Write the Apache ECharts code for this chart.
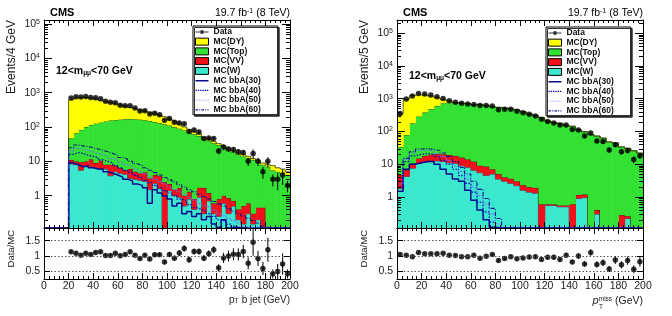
<!DOCTYPE html>
<html>
<head>
<meta charset="utf-8">
<script src="https://cdn.jsdelivr.net/npm/echarts@6/dist/echarts.min.js"></script>
<style>
  html, body { margin: 0; padding: 0; background: #fff; }
  #chart { width: 672px; height: 316px; }
</style>
</head>
<body>
<div id="chart"></div>
<script>
// ---- left panel: pT of b jet, 4 GeV bins from 0 to 200 ----
const leftBinWidth = 4;
const leftW = [0, 0, 0, 0, 0, 8.5, 8.0, 5.5, 7.0, 7.0, 6.5, 6.0, 6.0, 3.8, 5.0, 4.5, 4.2, 3.2, 3.0, 2.8, 2.6, 1.5, 2.3, 1.6, 0, 1.4, 1.0, 0.9, 0.5, 0.8, 0.4, 0.9, 0.3, 0.7, 0.3, 0.25, 0.6, 0.3, 0.5, 0.2, 0.15, 0.3, 0.15, 0.2, 0, 0, 0, 0, 0, 0];
const leftVV = [0, 0, 0, 0, 0, 2.5, 2, 4, 3, 4.5, 2.5, 4.5, 2, 4.2, 2.5, 2, 1.3, 2.8, 2, 1.7, 2.2, 1.7, 1.7, 2.2, 2.5, 0.8, 0.5, 0.8, 0.5, 0.5, 0.4, 0.8, 1.4, 0.5, 0.3, 0.55, 0.4, 0.55, 0.2, 0.2, 0.35, 0.3, 0.15, 0.25, 0.45, 0, 0, 0, 0, 0];
const leftTop = [0, 0, 0, 0, 0, 36, 56, 73, 90, 103, 116, 124, 137, 147, 152, 158, 164, 164, 163, 160, 153, 147, 136, 126, 117, 108, 98, 88, 79, 69, 61, 53, 42, 39, 33, 29, 24, 20, 18, 15.6, 13.5, 12, 10.7, 9, 7.5, 7, 5.5, 5, 4.5, 4];
const leftDY = [0, 0, 0, 0, 0, 573, 634, 647, 620, 575, 515, 455, 415, 365, 310, 265, 230, 200, 182, 155, 132, 120, 105, 90, 80, 60, 50, 30, 20, 15, 10, 7, 6, 5, 4, 3, 3, 2, 2, 2, 2, 1.5, 1, 1, 1, 1, 2, 1.5, 1.5, 1];
const leftData = [null, null, null, null, null, 700, 756, 745, 778, 718, 710, 667, 566, 525, 508, 430, 416, 418, 357, 291, 296, 240, 252, 227, 158, 177, 138, 131, 124, 74, 82, 71, 46, 48, 46, 20, 26, 23, 22, 19, 18, 10, 17, 10, 5, 10, 3, 3, 4, 2];
const leftRatio = [null, null, null, null, null, 1.13, 1.08, 1.02, 1.08, 1.04, 1.11, 1.13, 1.01, 1.01, 1.08, 1.0, 1.04, 1.13, 1.02, 0.91, 1.02, 0.89, 1.03, 1.03, 0.79, 1.04, 0.92, 1.09, 1.24, 0.87, 1.14, 1.14, 0.92, 1.07, 1.2, 0.6, 0.93, 0.99, 1.05, 1.04, 1.14, 0.75, 1.45, 0.91, 0.58, 1.2, 0.4, 0.48, 0.73, 0.4];
const leftRatioErr = [null, null, null, null, null, 0.04, 0.04, 0.04, 0.04, 0.04, 0.04, 0.04, 0.045, 0.045, 0.05, 0.05, 0.05, 0.055, 0.055, 0.06, 0.06, 0.065, 0.065, 0.07, 0.07, 0.08, 0.085, 0.1, 0.1, 0.1, 0.1, 0.1, 0.1, 0.11, 0.12, 0.12, 0.17, 0.18, 0.2, 0.2, 0.22, 0.2, 0.45, 0.25, 0.22, 0.4, 0.15, 0.25, 0.35, 0.15];
const leftSig30 = [0, 0, 0, 0, 0, 9, 8, 7, 7.5, 6.5, 6, 6, 5, 4.5, 4, 3.5, 3, 2.7, 2.2, 2, 1.7, 0.6, 1.5, 1.2, 1.0, 0.8, 0.5, 0.6, 0.3, 0.35, 0.25, 0.3, 0.2, 0.25, 0.15, 0.12, 0.2, 0.1, 0.12, 0, 0, 0, 0, 0, 0, 0, 0, 0, 0, 0];
const leftSig40 = [0, 0, 0, 0, 0, 16, 18, 17, 15, 14, 13, 11, 10, 9, 7.5, 6.5, 5.5, 4.8, 4, 3.4, 2.8, 2.4, 2, 1.7, 1.4, 1.2, 1.0, 0.8, 0.7, 0.55, 0.45, 0.4, 0.35, 0.3, 0.25, 0.2, 0.18, 0.15, 0.13, 0.11, 0, 0, 0, 0, 0, 0, 0, 0, 0, 0];
const leftSig50 = [0, 0, 0, 0, 0, 20, 24, 22, 21, 19, 17, 16, 14, 12, 11, 9.5, 8, 7, 6, 5, 4.3, 3.6, 3, 2.6, 2.2, 1.8, 1.5, 1.3, 1.1, 0.9, 0.75, 0.6, 0.5, 0.45, 0.38, 0.3, 0.26, 0.22, 0.19, 0.16, 0.13, 0.11, 0, 0, 0, 0, 0, 0, 0, 0];
const leftSig60 = [0, 0, 0, 0, 0, 25, 30, 28, 27, 25, 23, 21, 19, 17, 15, 13, 11.5, 10, 8.5, 7.5, 6.5, 5.5, 4.7, 4, 3.4, 2.9, 2.5, 2.1, 1.8, 1.5, 1.3, 1.1, 0.95, 0.8, 0.68, 0.58, 0.5, 0.42, 0.36, 0.3, 0.26, 0.22, 0.19, 0.16, 0.13, 0.11, 0, 0, 0, 0];

// ---- right panel: missing pT, 5 GeV bins from 0 to 200 ----
const rightBinWidth = 5;
const rightW = [1.8, 4.2, 7.5, 10.5, 11.5, 12, 12.5, 12, 11, 10.5, 9, 8, 6.5, 5.5, 4.5, 5.0, 3.5, 3.0, 2.6, 2.2, 1.6, 1.4, 1.3, 0, 0.55, 0.55, 0.5, 0.5, 0, 0.9, 0.95, 0, 0.3, 0, 0, 0, 0, 0.22, 0, 0];
const rightVV = [2.9, 2.4, 3.0, 4.5, 6.5, 7.5, 8, 8, 8, 7.5, 7, 6, 5.5, 3.5, 4, 2, 1.5, 1.0, 1.0, 0.8, 0.7, 0.6, 0.6, 0.6, 0.05, 0.05, 0.05, 0.05, 0.6, 0.25, 0.25, 0, 0.1, 0, 0, 0, 0.28, 0.04, 0, 0];
const rightTop = [29, 71, 166, 268, 362, 460, 580, 700, 741, 722, 704, 686, 633, 651, 611, 553, 535, 511, 481, 447, 393, 338, 298, 261, 206, 185, 174, 150, 142, 109, 96, 79, 71, 62, 47, 44, 33, 30, 25.5, 21.5];
const rightDY = [306, 872, 1063, 1017, 910, 720, 470, 220, 90, 30, 20, 10, 5, 10, 10, 10, 5, 5, 5, 5, 5, 5, 5, 3, 3, 2, 2, 2, 2, 1, 1, 1, 1, 1, 1, 1, 0.5, 0.5, 0.5, 0.5];
const rightData = [354, 969, 1203, 1443, 1380, 1284, 1145, 1015, 867, 778, 718, 689, 663, 616, 617, 593, 458, 473, 475, 410, 372, 331, 296, 233, 200, 179, 156, 156, 115, 110, 72, 89, 51, 49, 27, 39, 24, 26, 14, 18];
const rightRatio = [1.04, 1.02, 0.97, 1.11, 1.07, 1.07, 1.07, 1.08, 1.02, 1.01, 0.97, 0.97, 1.02, 0.92, 0.98, 1.04, 0.84, 0.91, 0.97, 0.9, 0.93, 0.96, 0.97, 0.88, 0.95, 0.95, 0.88, 1.02, 0.79, 0.99, 0.73, 1.11, 0.71, 0.77, 0.56, 0.86, 0.7, 0.84, 0.55, 0.8];
const rightRatioErr = [0.055, 0.033, 0.03, 0.03, 0.03, 0.03, 0.032, 0.034, 0.035, 0.036, 0.036, 0.037, 0.04, 0.037, 0.04, 0.043, 0.04, 0.042, 0.045, 0.045, 0.048, 0.053, 0.056, 0.058, 0.065, 0.07, 0.07, 0.08, 0.07, 0.09, 0.085, 0.11, 0.1, 0.11, 0.1, 0.13, 0.12, 0.14, 0.13, 0.16];
const rightSig30 = [1.5, 7, 10, 11, 12, 12, 10, 7, 5, 3.5, 3, 1.6, 0.8, 0.4, 0.2, 0.12, 0, 0, 0, 0, 0, 0, 0, 0, 0, 0, 0, 0, 0, 0, 0, 0, 0, 0, 0, 0, 0, 0, 0, 0];
const rightSig40 = [2, 12, 18, 20, 21, 20, 17, 13, 10, 7, 4.5, 2.6, 1.4, 0.7, 0.35, 0.17, 0, 0, 0, 0, 0, 0, 0, 0, 0, 0, 0, 0, 0, 0, 0, 0, 0, 0, 0, 0, 0, 0, 0, 0];
const rightSig50 = [2.5, 14, 22, 26, 27, 25, 21, 17, 13, 9, 6, 3.5, 2, 1.1, 0.6, 0.3, 0.15, 0, 0, 0, 0, 0, 0, 0, 0, 0, 0, 0, 0, 0, 0, 0, 0, 0, 0, 0, 0, 0, 0, 0];
const rightSig60 = [3, 15, 24, 29, 30, 28, 26, 22, 17, 12, 8, 5, 3, 1.7, 0.9, 0.45, 0.22, 0.11, 0, 0, 0, 0, 0, 0, 0, 0, 0, 0, 0, 0, 0, 0, 0, 0, 0, 0, 0, 0, 0, 0];

const logLabels = [1, 10, 100, 1000, 10000, 100000];
const ratioLabels = [0.5, 1, 1.5];

const ff = 'Liberation Sans, Arial, Helvetica, sans-serif';

const panels = [
  { left: 44, bw: leftBinWidth, yMin: 0.115, yMax: 1.3e5, W: leftW, VV: leftVV, Top: leftTop, DY: leftDY,
    data: leftData, ratio: leftRatio, ratioErr: leftRatioErr, sig: [leftSig30, leftSig40, leftSig50, leftSig60] },
  { left: 397, bw: rightBinWidth, yMin: 0.113, yMax: 2.5e5, W: rightW, VV: rightVV, Top: rightTop, DY: rightDY,
    data: rightData, ratio: rightRatio, ratioErr: rightRatioErr, sig: [rightSig30, rightSig40, rightSig50, rightSig60] }
];

const fills = [
  { key: 'W', name: 'MC(W)', color: '#3ce8cd', edge: '#1a3a5a' },
  { key: 'VV', name: 'MC(VV)', color: '#f0101a', edge: '#4a0000' },
  { key: 'Top', name: 'MC(Top)', color: '#33e133', edge: '#0c3d0c' },
  { key: 'DY', name: 'MC(DY)', color: '#ffff00', edge: '#3a3a00' }
];

// legend icons for the signal lines (26x14 box, drawn at half size)
const corners = 'M0,0L0.01,0L0,0.01Z M26,14L25.99,14L26,13.99Z ';
const seg = (x0, x1, y0, y1) => 'M' + x0 + ',' + y0 + 'H' + x1 + 'V' + y1 + 'H' + x0 + 'Z ';
const signals = [
  { name: 'MC bbA(30)', color: '#0a0a8c', width: 1.5, type: 'solid',
    icon: 'path://' + corners + seg(0, 26, 5.5, 8.5) },
  { name: 'MC bbA(40)', color: '#0000c0', width: 1.2, type: [1.5, 1.5],
    icon: 'path://' + corners + [0, 4.6, 9.2, 13.8, 18.4, 23].map(x => seg(x, x + 2.6, 5.6, 8.4)).join('') },
  { name: 'MC bbA(50)', color: '#7070ff', width: 0.9, type: [2, 1],
    icon: 'path://' + corners + [0, 3.5, 7, 10.5, 14, 17.5, 21, 24.5].map(x => seg(x, x + 1.5, 6.2, 7.8)).join('') },
  { name: 'MC bbA(60)', color: '#10108c', width: 1.1, type: [4, 1.5, 1, 1.5],
    icon: 'path://' + corners + seg(0, 5, 5.8, 8.2) + seg(7.5, 9.5, 5.8, 8.2) + seg(12, 17, 5.8, 8.2) + seg(19.5, 21.5, 5.8, 8.2) + seg(24, 26, 5.8, 8.2) }
];

const series = [];
const minorLog = [];
for (let e = -1; e <= 5; e++) for (let m = 2; m <= 9; m++) minorLog.push(m * Math.pow(10, e));

panels.forEach((p, pi) => {
  const gMain = 2 * pi, gRatio = 2 * pi + 1;
  const n = p.W.length, bw = p.bw;
  let base = new Array(n).fill(0);

  // stacked MC histograms
  fills.forEach(f => {
    const top = p[f.key].map((v, i) => base[i] + v);
    const items = top.map((t, i) => [
      i * bw, (i + 1) * bw,
      Math.max(base[i], p.yMin), Math.max(t, p.yMin),
      Math.max(i ? top[i - 1] : 0, p.yMin)
    ]);
    series.push({
      type: 'custom', name: f.name, xAxisIndex: gMain, yAxisIndex: gMain, clip: true, silent: true, z: 2,
      itemStyle: { color: f.color },
      encode: { x: [0, 1], y: [2, 3] },
      data: items,
      renderItem: (params, api) => {
        const a = api.coord([api.value(0), api.value(3)]);
        const b = api.coord([api.value(1), api.value(2)]);
        const q = api.coord([api.value(0), api.value(4)]);
        const kids = [];
        if (b[1] - a[1] > 0.01) {
          kids.push({ type: 'rect', shape: { x: a[0], y: a[1], width: b[0] - a[0] + 0.6, height: b[1] - a[1] },
            style: { fill: f.color } });
        }
        kids.push({ type: 'polyline', shape: { points: [q, a, [b[0], a[1]]] },
          style: { stroke: f.edge, lineWidth: 0.8, fill: null } });
        return { type: 'group', children: kids };
      }
    });
    base = top;
  });

  // signal lines
  signals.forEach((s, si) => {
    const vals = p.sig[si];
    const pts = vals.map((v, i) => [i * bw, Math.max(v, p.yMin)]);
    pts.push([n * bw, Math.max(vals[n - 1], p.yMin)]);
    series.push({
      type: 'line', name: s.name, xAxisIndex: gMain, yAxisIndex: gMain, step: 'end', symbol: 'none',
      clip: true, silent: true, z: 3, data: pts,
      itemStyle: { color: s.color },
      lineStyle: { color: s.color, width: s.width, type: s.type }
    });
  });

  // data points with error bars
  const dPts = [], dErr = [], rPts = [], rErr = [];
  p.data.forEach((v, i) => {
    if (v == null) return;
    const x = (i + 0.5) * bw;
    const rel = p.ratioErr[i] / p.ratio[i];
    dPts.push([x, v]);
    dErr.push([x, Math.max(v * (1 - rel), p.yMin), v * (1 + rel)]);
    rPts.push([x, p.ratio[i]]);
    rErr.push([x, p.ratio[i] - p.ratioErr[i], p.ratio[i] + p.ratioErr[i]]);
  });
  const errBar = (params, api) => {
    const a = api.coord([api.value(0), api.value(1)]);
    const b = api.coord([api.value(0), api.value(2)]);
    return { type: 'line', shape: { x1: a[0], y1: a[1], x2: b[0], y2: b[1] }, style: { stroke: '#000', lineWidth: 1 } };
  };
  series.push({ type: 'custom', name: 'data errors', xAxisIndex: gMain, yAxisIndex: gMain, clip: true, silent: true, z: 4,
    encode: { x: 0, y: [1, 2] }, data: dErr, renderItem: errBar });
  series.push({ type: 'scatter', name: 'Data', xAxisIndex: gMain, yAxisIndex: gMain, symbol: 'circle', symbolSize: 5.5,
    silent: true, z: 5, itemStyle: { color: '#000' }, data: dPts });
  series.push({ type: 'custom', name: 'ratio errors', xAxisIndex: gRatio, yAxisIndex: gRatio, clip: true, silent: true, z: 4,
    encode: { x: 0, y: [1, 2] }, data: rErr, renderItem: errBar });
  series.push({ type: 'scatter', name: 'ratio', xAxisIndex: gRatio, yAxisIndex: gRatio, symbol: 'circle', symbolSize: 5.5,
    silent: true, z: 5, itemStyle: { color: '#000' }, data: rPts });

  // minor ticks of the log axis (2..9 x 10^n) on both sides
  series.push({
    type: 'custom', name: 'log minor ticks', xAxisIndex: gMain, yAxisIndex: gMain, silent: true, z: 12,
    encode: { x: 0, y: 1 },
    data: minorLog.filter(v => v > p.yMin && v < p.yMax).map(v => [0, v]),
    renderItem: (params, api) => {
      const cs = params.coordSys;
      const y = Math.round(api.coord([0, api.value(1)])[1]) + 0.5;
      return { type: 'group', children: [
        { type: 'line', shape: { x1: cs.x, y1: y, x2: cs.x + 4, y2: y }, style: { stroke: '#000', lineWidth: 1 } },
        { type: 'line', shape: { x1: cs.x + cs.width - 4, y1: y, x2: cs.x + cs.width, y2: y }, style: { stroke: '#000', lineWidth: 1 } }
      ] };
    }
  });
});

const grids = [];
panels.forEach(p => {
  grids.push({ left: p.left, top: 20, width: 246, height: 208, show: false });
  grids.push({ left: p.left, top: 228, width: 246, height: 51, show: false });
});

const lineBlack = { show: true, onZero: false, lineStyle: { color: '#000', width: 1 } };
const xAxes = [], yAxes = [];
const logFormatter = v => {
  const l = Math.log10(v), e = Math.round(l);
  if (Math.abs(l - e) > 1e-6 || !logLabels.includes(Math.pow(10, e))) return '';
  if (e === 0) return '1';
  if (e === 1) return '10';
  return '10{s|' + e + '}';
};
const ratioFormatter = v => ratioLabels.some(t => Math.abs(v - t) < 1e-6) ? String(+v.toFixed(2)) : '';

[0, 1, 2, 3].forEach(g => {
  const isRatio = g % 2 === 1;
  xAxes[g] = {
    gridIndex: g, type: 'value', min: 0, max: 200, interval: 20, position: 'bottom', z: 10,
    axisLine: lineBlack,
    axisTick: { inside: true, length: 6, lineStyle: { color: '#000' } },
    minorTick: { show: true, splitNumber: 5, length: 3, lineStyle: { color: '#000' } },
    splitLine: { show: false },
    axisLabel: { show: isRatio, fontSize: 10.5, fontFamily: ff, color: '#222', margin: 2 }
  };
  xAxes[4 + g] = {
    gridIndex: g, type: 'value', min: 0, max: 200, interval: 20, position: 'top', z: 10,
    axisLine: lineBlack,
    axisTick: { inside: true, length: 6, lineStyle: { color: '#000' } },
    minorTick: { show: true, splitNumber: 5, length: 3, lineStyle: { color: '#000' } },
    splitLine: { show: false }, axisLabel: { show: false }
  };
  if (!isRatio) {
    const p = panels[g / 2];
    const common = { gridIndex: g, type: 'log', logBase: 10, min: p.yMin, max: p.yMax, z: 10,
      axisLine: lineBlack, splitLine: { show: false },
      axisTick: { inside: true, length: 8, lineStyle: { color: '#000' } } };
    yAxes[g] = Object.assign({}, common, { position: 'left',
      axisLabel: { formatter: logFormatter, fontSize: 10.5, fontFamily: ff, color: '#222', margin: 4,
        rich: { s: { fontSize: 7, fontFamily: ff, color: '#222', verticalAlign: 'top', lineHeight: 8 } } } });
    yAxes[4 + g] = Object.assign({}, common, { position: 'right', axisLabel: { show: false } });
  } else {
    const common = { gridIndex: g, type: 'value', min: 0.23, max: 1.92, splitNumber: 3, z: 10,
      axisLine: lineBlack,
      axisTick: { inside: true, length: 6, lineStyle: { color: '#000' } } };
    yAxes[g] = Object.assign({}, common, { position: 'left',
      splitLine: { show: true, showMinLine: false, showMaxLine: false, lineStyle: { color: '#555', type: [1.5, 2], width: 1 } },
      axisLabel: { formatter: ratioFormatter, fontSize: 10.5, fontFamily: ff, color: '#222', margin: 4 } });
    yAxes[4 + g] = Object.assign({}, common, { position: 'right', splitLine: { show: false }, axisLabel: { show: false } });
  }
});

const dataIcon = 'path://' + corners + 'M0,6H9V8H0Z M17,6H26V8H17Z M17,7A4,4 0 1 1 9,7A4,4 0 1 1 17,7Z';
const legendData = [{ name: 'Data', icon: dataIcon, itemStyle: { color: '#000', borderWidth: 0 } }]
  .concat(['MC(DY)', 'MC(Top)', 'MC(VV)', 'MC(W)'].map(nm => {
    const f = fills.find(x => x.name === nm);
    return { name: nm, icon: 'rect', itemStyle: { color: f.color, borderColor: '#000', borderWidth: 1 } };
  }))
  .concat(signals.map(s => ({ name: s.name, icon: s.icon, itemStyle: { color: s.color, borderWidth: 0 } })));

const legendBase = {
  orient: 'vertical', selectedMode: false, backgroundColor: '#fff', borderColor: '#000', borderWidth: 1,
  shadowColor: '#333', shadowBlur: 0, shadowOffsetX: 1.5, shadowOffsetY: 1.5,
  padding: [1, 17, 0, 2], itemGap: 0, itemWidth: 13, itemHeight: 7,
  textStyle: { fontSize: 8.5, fontWeight: 'bold', fontFamily: ff, color: '#111', lineHeight: 9.75 },
  data: legendData
};

const txt = (x, y, style, extra) => Object.assign({ type: 'text', x, y, silent: true, z: 20,
  style: Object.assign({ fontFamily: ff, fill: '#000', verticalAlign: 'middle' }, style) }, extra || {});

const graphics = [];
[['Events/4 GeV', 'p{sub|T} b jet (GeV)'], ['Events/5 GeV', null]].forEach((t, pi) => {
  const L = panels[pi].left, R = L + 246;
  graphics.push(txt(L + 6, 13, { text: 'CMS', fontSize: 11, fontWeight: 'bold' }));
  graphics.push(txt(R, 13, { text: '19.7 fb{s|-1} (8 TeV)', fontSize: 10.5, align: 'right',
    rich: { s: { fontSize: 7, fontFamily: ff, verticalAlign: 'top', lineHeight: 8 } } }));
  graphics.push(txt(L + 12, pi === 0 ? 71 : 76, { text: '12<m{sub|μμ}<70 GeV', fontSize: 10.5, fontWeight: 'bold',
    rich: { sub: { fontSize: 6.5, fontFamily: ff, fontWeight: 'bold', verticalAlign: 'bottom', lineHeight: 8 } } }));
  graphics.push(txt(L - 32, 20, { text: t[0], fontSize: 12, fill: '#222', align: 'right' }, { rotation: Math.PI / 2 }));
  graphics.push(txt(L - 33, 230, { text: 'Data/MC', fontSize: 9.5, fill: '#222', align: 'right' }, { rotation: Math.PI / 2 }));
  if (t[1]) {
    graphics.push(txt(R, 300, { text: t[1], fontSize: 10, fill: '#222', align: 'right',
      rich: { sub: { fontSize: 7, fontFamily: ff, fill: '#222', verticalAlign: 'bottom', lineHeight: 8 } } }));
  }
});
graphics.push(txt(643, 301, { text: '{pi|p}{sup|miss} (GeV)', fontSize: 10.5, fill: '#222', align: 'right',
  rich: { pi: { fontSize: 11, fontStyle: 'italic', fontFamily: ff, fill: '#222' },
          sup: { fontSize: 6.5, fontFamily: ff, fill: '#222', verticalAlign: 'top', lineHeight: 9 } } }));
graphics.push(txt(599, 307, { text: 'T', fontSize: 6.5, fill: '#222' }));

const chart = echarts.init(document.getElementById('chart'), null, { renderer: 'canvas' });
chart.setOption({
  animation: false,
  textStyle: { fontFamily: ff },
  grid: grids,
  xAxis: xAxes,
  yAxis: yAxes,
  legend: [
    Object.assign({}, legendBase, { left: 193, top: 26 }),
    Object.assign({}, legendBase, { left: 546, top: 27 })
  ],
  graphic: graphics,
  series: series
});
</script>
</body>
</html>
